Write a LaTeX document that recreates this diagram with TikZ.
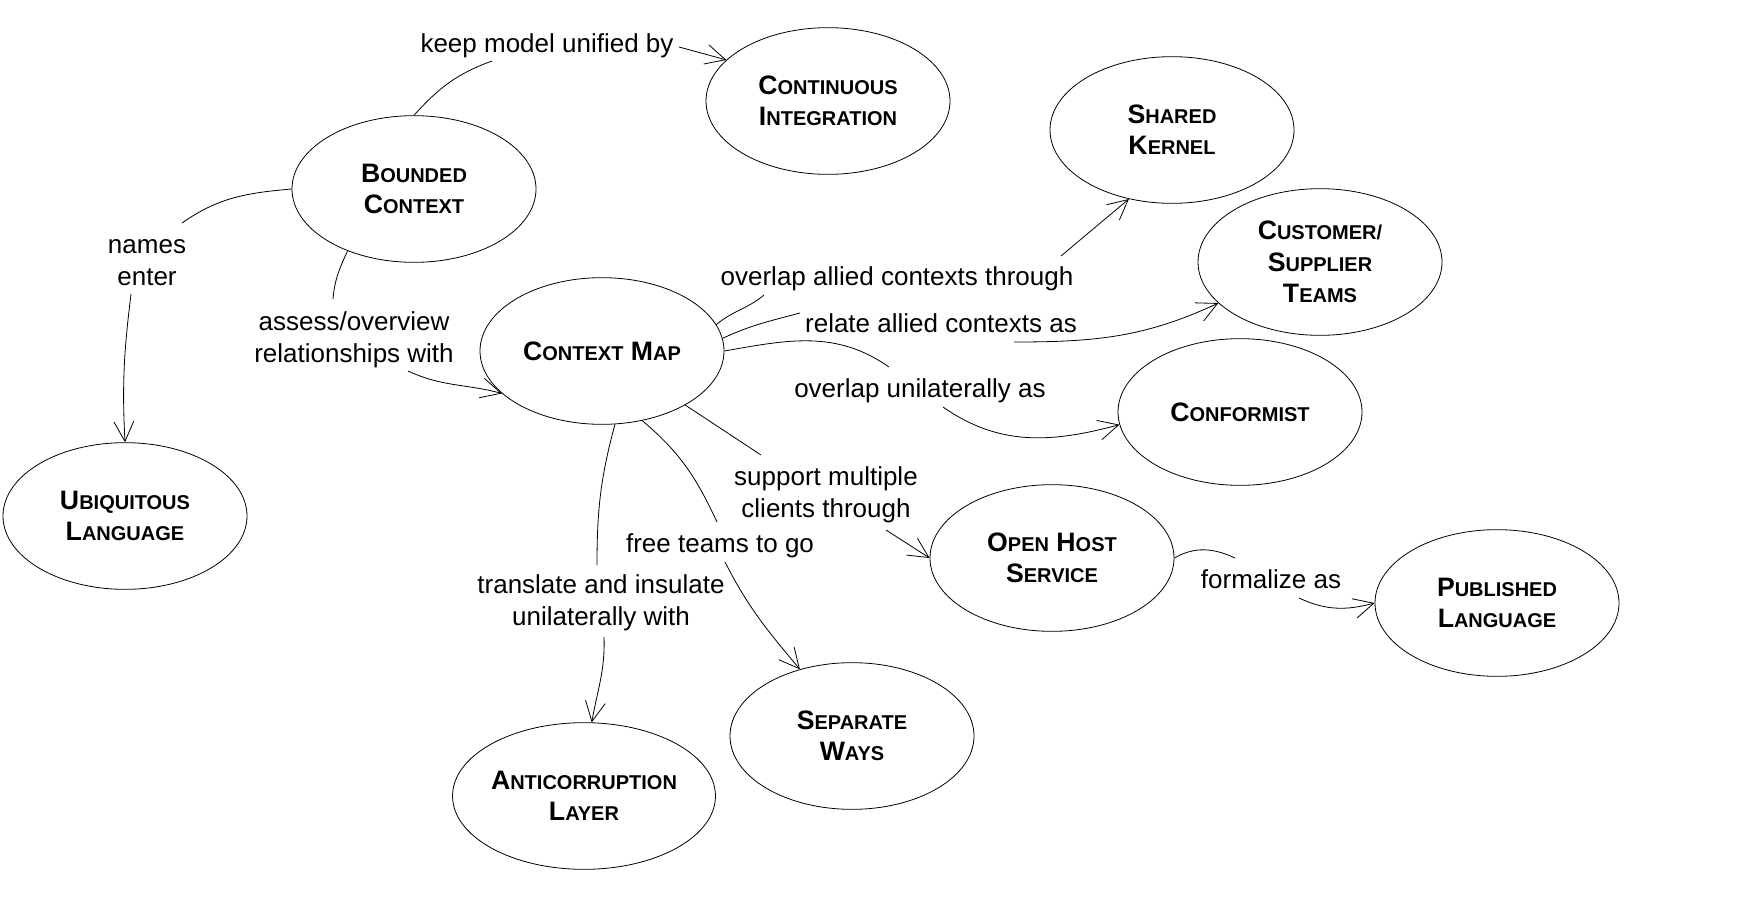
\documentclass[tikz,border=0pt]{standalone}
\usepackage{fontspec}
\setmainfont{Liberation Sans}
\usepackage{tikz}
\usetikzlibrary{shapes.geometric,arrows.meta}
\newcommand{\lowcap}[1]{{\fontsize{15}{23.5}\selectfont #1}}
\tikzset{
	concept/.style={ellipse, draw, minimum width=183pt, minimum height=110pt, inner sep=0pt, align=center, font=\bfseries\fontsize{20}{23.5}\selectfont},
	rel/.style={inner sep=0pt, align=center, font=\fontsize{19.5}{24}\selectfont},
	>={Straight Barb[length=15pt,width=15pt]}
}
\begin{document}
\begin{tikzpicture}[x=0.75pt, y=0.75pt, line width=0.6pt]
	\useasboundingbox (0,0) rectangle (1738,-910);
	\node[concept] (bc) at (414,-189) {B\lowcap{OUNDED}\\C\lowcap{ONTEXT}};
	\node[concept] (ci) at (828,-101) {C\lowcap{ONTINUOUS}\\I\lowcap{NTEGRATION}};
	\node[concept] (sk) at (1172,-130) {S\lowcap{HARED}\\K\lowcap{ERNEL}};
	\node[concept] (cst) at (1320,-262) {C\lowcap{USTOMER/}\\S\lowcap{UPPLIER}\\T\lowcap{EAMS}};
	\node[concept] (conf) at (1240,-412) {C\lowcap{ONFORMIST}};
	\node[concept] (cm) at (602,-351) {C\lowcap{ONTEXT} M\lowcap{AP}};
	\node[concept] (ul) at (125,-516) {U\lowcap{BIQUITOUS}\\L\lowcap{ANGUAGE}};
	\node[concept, minimum width=195pt] (acl) at (584,-796) {A\lowcap{NTICORRUPTION}\\L\lowcap{AYER}};
	\node[concept] (sw) at (852,-736) {S\lowcap{EPARATE}\\W\lowcap{AYS}};
	\node[concept] (ohs) at (1052,-558) {O\lowcap{PEN} H\lowcap{OST}\\S\lowcap{ERVICE}};
	\node[concept] (pl) at (1497,-603) {P\lowcap{UBLISHED}\\L\lowcap{ANGUAGE}};

	\node[rel] (kmu) at (547,-46) {keep model unified by};
	\node[rel] (ne) at (147,-263) {names\\enter};
	\node[rel] (ao) at (354,-340) {assess/overview\\relationships with};
	\node[rel] (oac) at (897,-279) {overlap allied contexts through};
	\node[rel] (raca) at (941,-323) {relate allied contexts as};
	\node[rel] (oua) at (920,-391) {overlap unilaterally as};
	\node[rel] (smct) at (826,-495) {support multiple\\clients through};
	\node[rel] (ftg) at (720,-546) {free teams to go};
	\node[rel] (tiuw) at (601,-603) {translate and insulate\\unilaterally with};
	\node[rel] (fa) at (1271,-579) {formalize as};

	\draw (bc.north) to[out=48, in=-160] ([shift={(-55,-15)}]kmu.center);
	\draw[->] ([shift={(132,-1)}]kmu.center) -- (ci.158);
	\draw (bc.west) to[out=185, in=35] ([shift={(35,40)}]ne.center);
	\draw[->] ([shift={(-16,-31)}]ne.center) to[out=-97, in=93] (ul.north);
	\draw (bc.223) to[out=-115, in=85] ([shift={(-21,41)}]ao.center);
	\draw[->] ([shift={(54,-31)}]ao.center) to[out=-25, in=165] (cm.203);
	\draw (cm.13) to[out=40, in=-140] ([shift={(-133,-16)}]oac.center);
	\draw[->] ([shift={(164,23)}]oac.center) -- (sk.238);
	\draw (cm.6) to[out=25, in=-165] ([shift={(-141,10)}]raca.center);
	\draw[->] ([shift={(73,-19)}]raca.center) to[out=0, in=-155] (cst.202);
	\draw (cm.east) to[out=10, in=145] ([shift={(-31,24)}]oua.center);
	\draw[->] ([shift={(23,-16)}]oua.center) to[out=-35, in=195] (conf.186);
	\draw (cm.-33) -- ([shift={(-65,40)}]smct.center);
	\draw[->] ([shift={(60,-35)}]smct.center) -- (ohs.west);
	\draw (cm.-60) to[out=-40, in=115] ([shift={(-3,24)}]ftg.center);
	\draw[->] ([shift={(5,-16)}]ftg.center) to[out=-63, in=130] (sw.128);
	\draw (cm.-80) to[out=-105, in=90] ([shift={(-4,38)}]tiuw.center);
	\draw[->] ([shift={(3,-34)}]tiuw.center) to[out=-88, in=80] (acl.84);
	\draw (ohs.east) to[out=30, in=155] ([shift={(-36,21)}]fa.center);
	\draw[->] ([shift={(28,-19)}]fa.center) to[out=-25, in=195] (pl.west);
\end{tikzpicture}
\end{document}
